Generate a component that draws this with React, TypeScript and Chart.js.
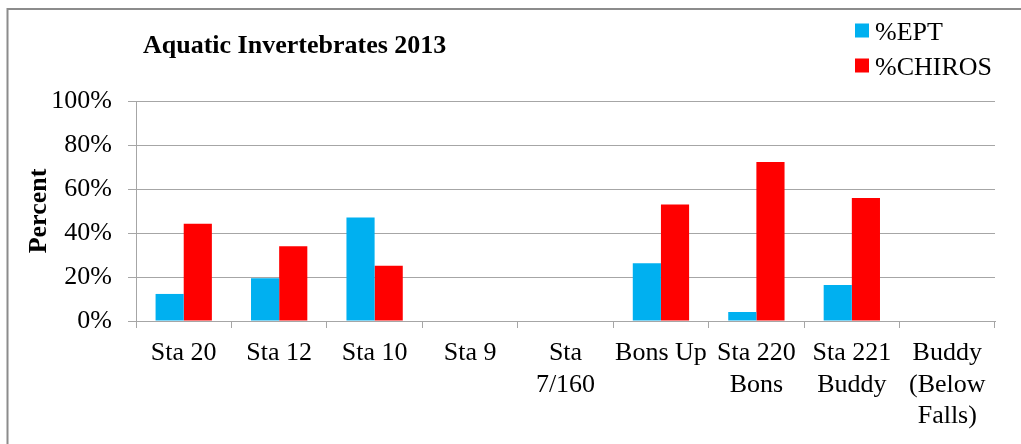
import React, { useEffect, useRef } from "react";
import { Chart, registerables } from "chart.js";

Chart.register(...registerables);

const categories: string[][] = [
  ["Sta 20"],
  ["Sta 12"],
  ["Sta 10"],
  ["Sta 9"],
  ["Sta", "7/160"],
  ["Bons Up"],
  ["Sta 220", "Bons"],
  ["Sta 221", "Buddy"],
  ["Buddy", "(Below", "Falls)"],
];
const eptValues: (number | null)[] = [12.3, 19.4, 47.1, null, null, 26.2, 4.1, 16.4, null];
const chirosValues: (number | null)[] = [44.2, 34.0, 25.1, null, null, 53.0, 72.3, 55.9, null];
const seriesNames = ["%EPT", "%CHIROS"];
const seriesColors = ["#00B0F0", "#FF0000"];
const yMin = 0;
const yMax = 100;
const yStep = 20;
const chartTitle = "Aquatic Invertebrates 2013";
const yAxisTitle = "Percent";

const FONT = "'Liberation Serif', 'Times New Roman', serif";
const GRID = "#A6A6A6";

const framePlugin = {
  id: "frame",
  beforeDraw(chart: any) {
    const ctx = chart.ctx;
    ctx.save();
    ctx.fillStyle = "#ffffff";
    ctx.fillRect(0, 0, chart.width, chart.height);
    ctx.strokeStyle = "#8C8C8C";
    ctx.lineWidth = 2;
    ctx.strokeRect(7.5, 9, 3000, 3000);
    ctx.restore();
  },
  afterDraw(chart: any) {
    const ctx = chart.ctx;
    ctx.save();
    // title
    ctx.fillStyle = "#000000";
    ctx.font = `bold 26px ${FONT}`;
    ctx.textAlign = "left";
    ctx.textBaseline = "alphabetic";
    ctx.fillText(chartTitle, 143, 53);
    // legend from datasets
    ctx.font = `26px ${FONT}`;
    chart.data.datasets.forEach((ds: any, i: number) => {
      const cy = 30.5 + i * 35;
      ctx.fillStyle = ds.backgroundColor;
      ctx.fillRect(855, cy - 7, 14, 14);
      ctx.fillStyle = "#000000";
      ctx.fillText(ds.label, 875, cy + 9.5);
    });
    ctx.restore();
  },
};

export default function App() {
  const ref = useRef<HTMLCanvasElement | null>(null);
  useEffect(() => {
    if (!ref.current) return;
    const chart = new Chart(ref.current, {
      type: "bar",
      data: {
        labels: categories,
        datasets: [
          {
            label: seriesNames[0],
            data: eptValues,
            backgroundColor: seriesColors[0],
            borderWidth: 0,
            categoryPercentage: 0.59,
            barPercentage: 1.0,
          },
          {
            label: seriesNames[1],
            data: chirosValues,
            backgroundColor: seriesColors[1],
            borderWidth: 0,
            categoryPercentage: 0.59,
            barPercentage: 1.0,
          },
        ],
      },
      options: {
        animation: false,
        responsive: false,
        devicePixelRatio: 1,
        layout: { padding: { left: 0, right: 26, top: 101, bottom: 0 } },
        plugins: {
          legend: { display: false },
          title: { display: false },
          tooltip: { enabled: false },
        },
        scales: {
          x: {
            afterFit: (scale: any) => {
              scale.height = 123;
            },
            grid: {
              display: true,
              drawOnChartArea: false,
              drawTicks: true,
              tickLength: 7,
              color: GRID,
              offset: true,
            },
            border: { display: true, color: GRID },
            ticks: {
              color: "#000000",
              font: { family: FONT, size: 26 },
              maxRotation: 0,
              minRotation: 0,
              autoSkip: false,
              padding: 10,
            },
          },
          y: {
            min: yMin,
            max: yMax,
            afterFit: (scale: any) => {
              scale.width = 136;
            },
            grid: {
              color: GRID,
              tickLength: 8,
              drawTicks: true,
            },
            border: { display: true, color: GRID },
            ticks: {
              stepSize: yStep,
              color: "#000000",
              font: { family: FONT, size: 26 },
              padding: 16,
              callback: (v: any) => `${v}%`,
            },
            title: {
              display: true,
              text: yAxisTitle,
              color: "#000000",
              font: { family: FONT, size: 26, weight: "bold" },
              padding: { top: 24, bottom: 0 },
            },
          },
        },
      },
      plugins: [framePlugin],
    });
    return () => chart.destroy();
  }, []);
  return (
    <div style={{ position: "absolute", left: 0, top: 0, width: 1021, height: 444 }}>
      <canvas ref={ref} width={1021} height={444} style={{ display: "block" }} />
    </div>
  );
}
